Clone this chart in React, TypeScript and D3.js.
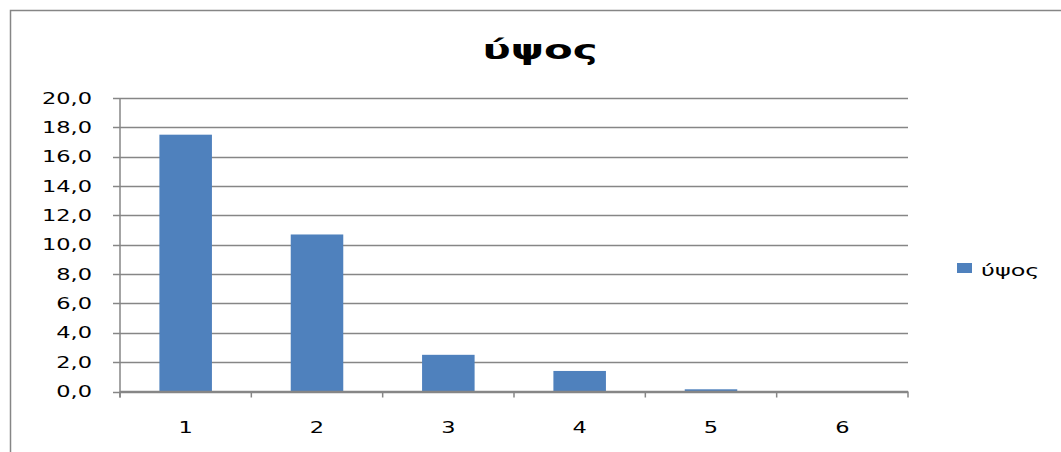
import React from "react";
import * as d3 from "d3";

const categories = ["1", "2", "3", "4", "5", "6"];
const heights = [17.5, 10.7, 2.5, 1.4, 0.15, 0];
const yTicks = [0, 2, 4, 6, 8, 10, 12, 14, 16, 18, 20];
const seriesName = "ύψος";
const chartTitle = "ύψος";

const W = 1061;
const H = 452;
const plot = { left: 120, right: 908, top: 98, bottom: 391.5 };
const SX = 1.5; // horizontal text stretch
const FONT = "'DejaVu Sans', Verdana, sans-serif";
const GRID = "#868686";
const BAR = "#4F81BD";

function Stretched(props: {
  x: number;
  y: number;
  anchor?: "start" | "middle" | "end";
  size: number;
  weight?: string | number;
  sx?: number;
  children: React.ReactNode;
}) {
  const { x, y, anchor = "start", size, weight = "normal", sx = SX, children } = props;
  return (
    <g transform={`translate(${x},${y}) scale(${sx},1)`}>
      <text
        x={0}
        y={0}
        textAnchor={anchor}
        fontSize={size}
        fontWeight={weight}
        fontFamily={FONT}
        fill="#000"
      >
        {children}
      </text>
    </g>
  );
}

export default function App() {
  const x = d3
    .scaleBand<string>()
    .domain(categories)
    .range([plot.left, plot.right])
    .paddingInner(0.6)
    .paddingOuter(0.3);
  const y = d3.scaleLinear().domain([0, 20]).range([plot.bottom, plot.top]);
  const step = x.step();
  const bounds = d3.range(categories.length + 1).map((i) => plot.left + i * step);

  return (
    <svg
      width={W}
      height={H}
      style={{ position: "absolute", left: 0, top: 0, background: "#fff" }}
    >
      <rect x={0} y={0} width={W} height={H} fill="#fff" />
      {/* chart frame */}
      <path d={`M10.5,${H} V10.5 H${W}`} fill="none" stroke={GRID} strokeWidth={1.5} />

      <Stretched x={540} y={59} anchor="middle" size={27} sx={1.55} weight="bold">
        {chartTitle}
      </Stretched>

      {/* gridlines and y ticks */}
      {yTicks.map((t) => (
        <g key={t}>
          <line
            x1={plot.left - 7}
            x2={plot.right}
            y1={Math.round(y(t)) + 0.5}
            y2={Math.round(y(t)) + 0.5}
            stroke={GRID}
            strokeWidth={1.5}
          />
          <Stretched x={92} y={y(t) + 5.5} anchor="end" size={15}>
            {d3.format(".1f")(t).replace(".", ",")}
          </Stretched>
        </g>
      ))}

      {/* vertical axis */}
      <line x1={plot.left} x2={plot.left} y1={plot.top} y2={plot.bottom + 6} stroke={GRID} strokeWidth={1.5} />

      {/* bars */}
      {categories.map((c, i) => (
        <rect
          key={c}
          x={x(c)}
          y={y(heights[i])}
          width={x.bandwidth()}
          height={plot.bottom - y(heights[i])}
          fill={BAR}
        />
      ))}

      {/* x axis */}
      <line x1={plot.left} x2={plot.right} y1={plot.bottom} y2={plot.bottom} stroke={GRID} strokeWidth={1.5} />
      {bounds.map((b, i) => (
        <line key={i} x1={b} x2={b} y1={plot.bottom} y2={plot.bottom + 6} stroke={GRID} strokeWidth={1.5} />
      ))}
      {categories.map((c) => (
        <Stretched key={c} x={(x(c) as number) + x.bandwidth() / 2} y={433} anchor="middle" size={15}>
          {c}
        </Stretched>
      ))}

      {/* legend */}
      <rect x={957} y={263} width={15} height={10} fill={BAR} />
      <Stretched x={981} y={276} size={15} sx={1.6}>
        {seriesName}
      </Stretched>
    </svg>
  );
}
